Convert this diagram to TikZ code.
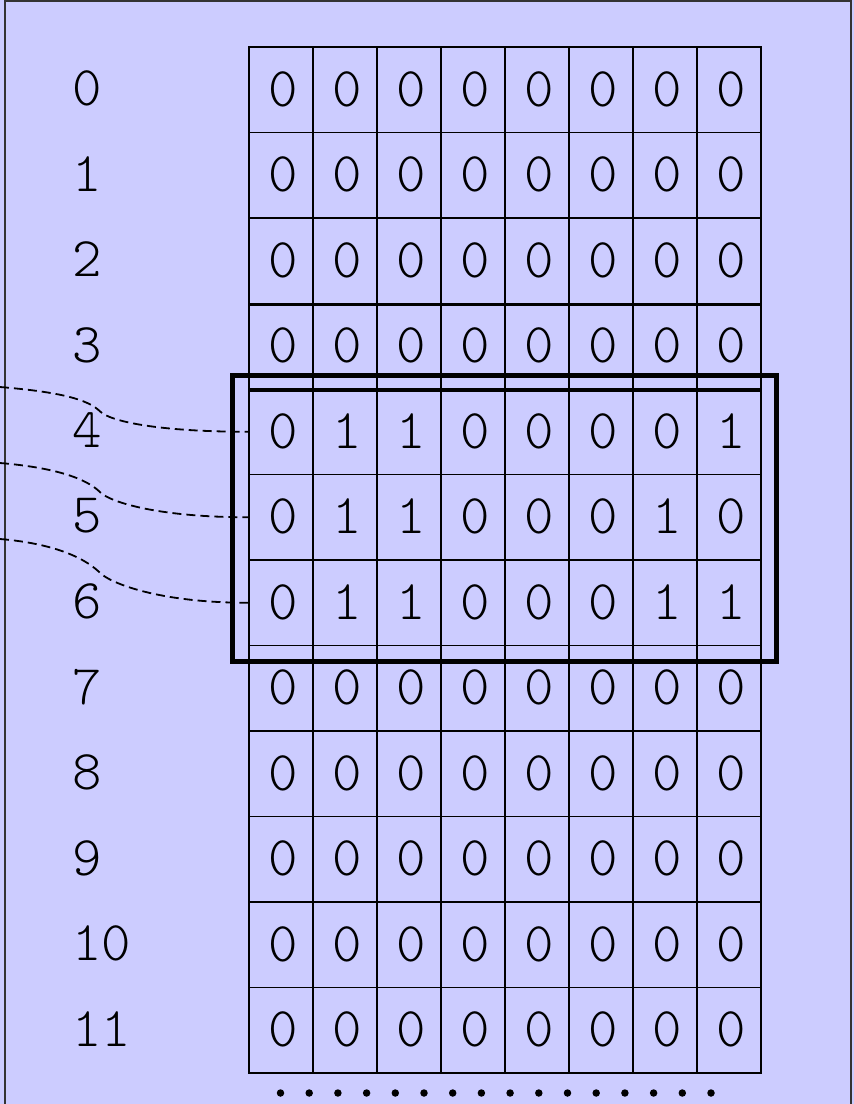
\documentclass[tikz,border=0pt]{standalone}
\usepackage{fontspec}
\newfontfamily\cellfont{Latin Modern Mono Light}
\usetikzlibrary{calc}
\definecolor{bgblue}{HTML}{CCCCFF}
\begin{document}
\begin{tikzpicture}[x=1pt,y=-1pt,
  cell/.style={draw=black,line width=1.9pt,minimum width=64pt,minimum height=85.5pt,inner sep=0pt,font=\cellfont\fontsize{56}{56}\selectfont},
  rowlabel/.style={anchor=west,inner sep=0pt,font=\cellfont\fontsize{56}{56}\selectfont},
  link/.style={draw=black,line width=1.8pt,dash pattern=on 9pt off 5pt},
  frame/.style={draw=black,line width=5pt},
  dot/.style={fill=black,circle,inner sep=0pt,minimum size=7.5pt}]
\useasboundingbox (0,0) rectangle (854,1104);
\begin{scope}
\clip (0,0) rectangle (854,1104);
\fill[bgblue] (0,0) rectangle (854,1104);
\draw[draw=black!80,line width=2pt] (5,1) rectangle (851,1120);
\end{scope}
% grid
\foreach \r/\vals in {0/{0,0,0,0,0,0,0,0},1/{0,0,0,0,0,0,0,0},2/{0,0,0,0,0,0,0,0},3/{0,0,0,0,0,0,0,0},4/{0,1,1,0,0,0,0,1},5/{0,1,1,0,0,0,1,0},6/{0,1,1,0,0,0,1,1},7/{0,0,0,0,0,0,0,0},8/{0,0,0,0,0,0,0,0},9/{0,0,0,0,0,0,0,0},10/{0,0,0,0,0,0,0,0},11/{0,0,0,0,0,0,0,0}}{
  \node[rowlabel] (l\r) at (72,{88.5+85.5*\r}) {\r};
  \foreach \v [count=\c from 0] in \vals {
    \node[cell] (c-\r-\c) at ({281+64*\c},{89.75+85.5*\r}) {\raisebox{1.5pt}{\hspace*{5pt}\v}};
  }
}
% extra lines from overlapping rows
\draw[line width=3pt] (c-2-0.south west) -- (c-2-7.south east);
\draw[line width=1.6pt] ([yshift=-3pt]c-4-0.north west) -- ([yshift=-3pt]c-4-7.north east);
% highlight frame
\node[frame,inner sep=0pt,minimum width=543.5pt,minimum height=286pt] (hl) at (504.25,518) {};
% dashed links
\coordinate (s4) at (0,387);
\coordinate (s5) at (0,463);
\coordinate (s6) at (0,539);
\foreach \r in {4,5,6}{
  \path[link] (s\r) .. controls +(60,5) and +(-12,-12) .. ($(s\r)!0.5!(c-\r-0.west)+(-24,2)$) .. controls +(10,10) and +(-90,0) .. (c-\r-0.west);
}
% dots
\foreach \i in {0,...,15}{
  \node[dot] (d\i) at ({280.5+28.7*\i},1093) {};
}
\end{tikzpicture}
\end{document}
